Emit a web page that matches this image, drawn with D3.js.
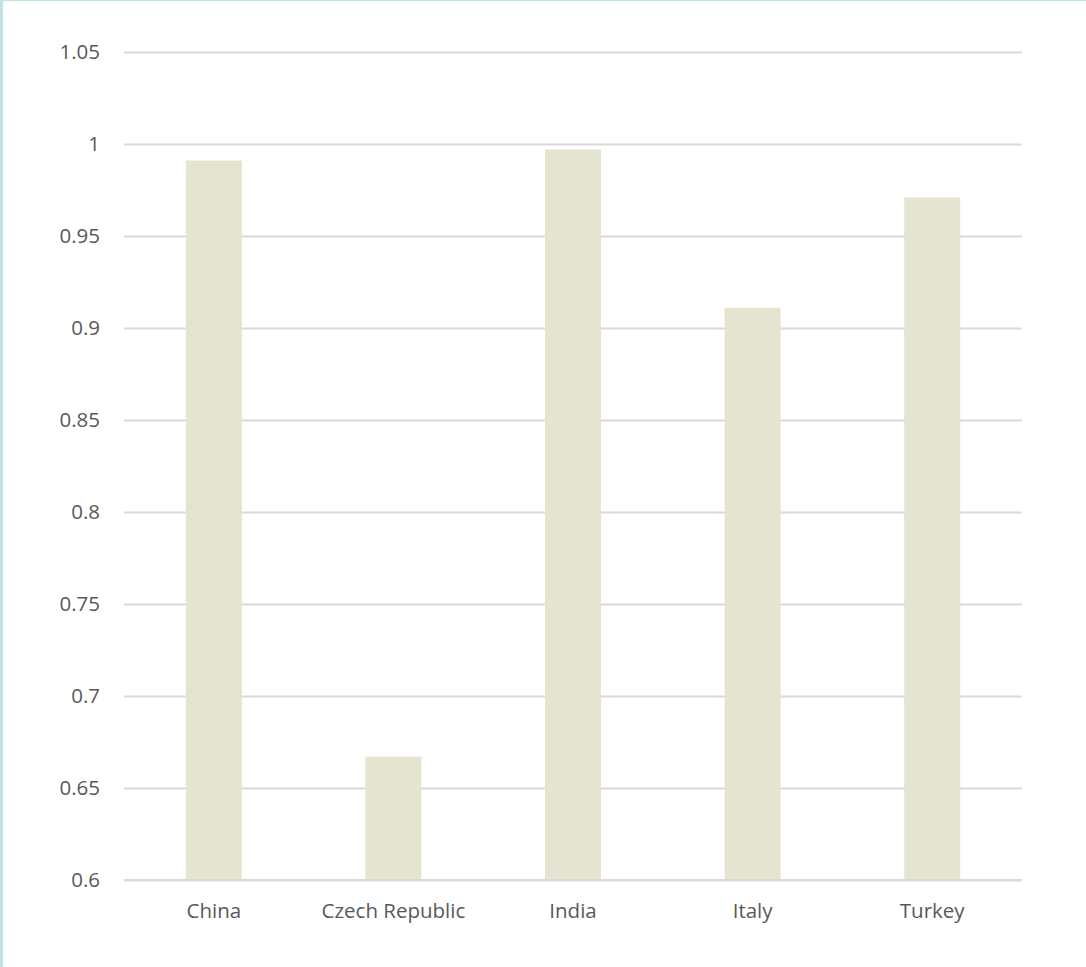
<!DOCTYPE html>
<html>
<head>
<meta charset="utf-8">
<script src="https://cdn.jsdelivr.net/npm/d3@7/dist/d3.min.js"></script>
<style>
  html, body { margin: 0; padding: 0; background: #ffffff; }
  svg { display: block; }
  text { font-family: "Open Sans", "Noto Sans", sans-serif; fill: #595959; }
</style>
</head>
<body>
<div id="chart"></div>
<script>
// Categories and their values
const categories = ["China", "Czech Republic", "India", "Italy", "Turkey"];
const values = [0.991, 0.667, 0.997, 0.911, 0.971];
const tickValues = [0.6, 0.65, 0.7, 0.75, 0.8, 0.85, 0.9, 0.95, 1, 1.05];
const tickLabels = ["0.6", "0.65", "0.7", "0.75", "0.8", "0.85", "0.9", "0.95", "1", "1.05"];

const width = 1086, height = 967;
const margin = { left: 124, right: 64, top: 52, bottom: 87 };
const fontSize = 20.5;

const svg = d3.select("#chart").append("svg")
  .attr("width", width)
  .attr("height", height);

// frame edges
svg.append("rect").attr("x", 0).attr("y", 0).attr("width", width).attr("height", 1).attr("fill", "#bde3e4");
svg.append("rect").attr("x", 0).attr("y", 0).attr("width", 3).attr("height", height).attr("fill", "#bde3e4");

const x = d3.scaleBand()
  .domain(categories)
  .range([margin.left, width - margin.right])
  .paddingInner(0.688)
  .paddingOuter(0.344);

const y = d3.scaleLinear()
  .domain([0.6, 1.05])
  .range([height - margin.bottom, margin.top]);

// horizontal gridlines
const yAxis = d3.axisLeft(y)
  .tickValues(tickValues)
  .tickFormat((d, i) => tickLabels[i])
  .tickSize(-(width - margin.left - margin.right))
  .tickPadding(24);

const gy = svg.append("g")
  .attr("transform", `translate(${margin.left},0)`)
  .call(yAxis);
gy.select(".domain").remove();
gy.selectAll(".tick line").attr("stroke", "#d9d9d9").attr("stroke-width", 2);
gy.selectAll(".tick text")
  .attr("font-size", fontSize)
  .attr("fill", "#595959")
  .style("font-family", '"Open Sans", "Noto Sans", sans-serif');

// bars
svg.append("g").selectAll("rect")
  .data(categories)
  .join("rect")
  .attr("x", d => x(d))
  .attr("width", x.bandwidth())
  .attr("y", (d, i) => y(values[i]))
  .attr("height", (d, i) => y(0.6) - y(values[i]))
  .attr("fill", "#e5e4d1");

// baseline redrawn over bars
svg.append("line")
  .attr("x1", margin.left).attr("x2", width - margin.right)
  .attr("y1", y(0.6)).attr("y2", y(0.6))
  .attr("stroke", "#d9d9d9").attr("stroke-width", 2);

// category axis labels
const xAxis = d3.axisBottom(x).tickSize(0).tickPadding(23);
const gx = svg.append("g")
  .attr("transform", `translate(0,${y(0.6)})`)
  .call(xAxis);
gx.select(".domain").remove();
gx.selectAll(".tick text")
  .attr("font-size", fontSize)
  .attr("fill", "#595959")
  .style("font-family", '"Open Sans", "Noto Sans", sans-serif');
</script>
</body>
</html>
